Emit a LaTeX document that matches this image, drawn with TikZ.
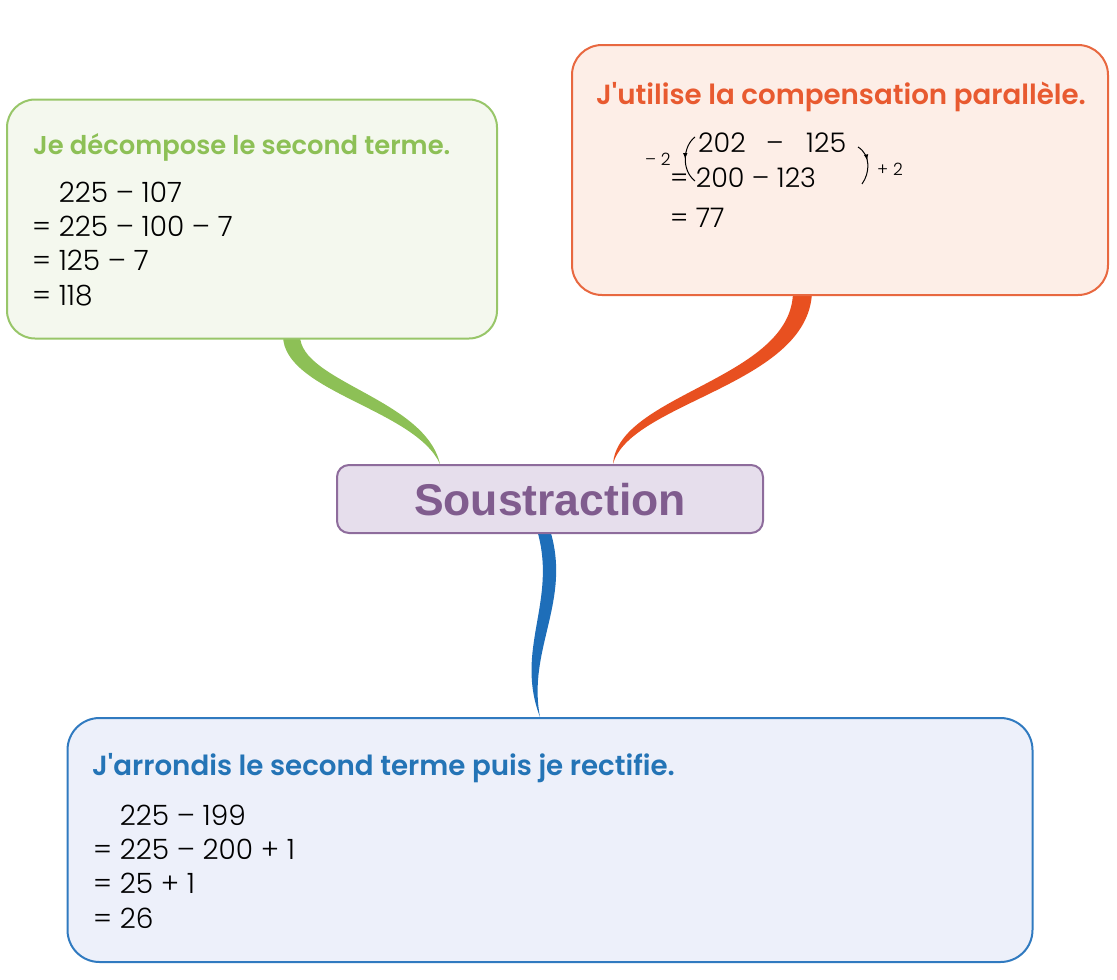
\documentclass[tikz,border=0pt]{standalone}
\usepackage{fontspec}
\setmainfont{Poppins Light}
\newfontfamily\headfont{Poppins SemiBold}
\newfontfamily\titlefont{Liberation Sans}
\usetikzlibrary{backgrounds,decorations.markings}

\definecolor{greenhead}{RGB}{141,192,86}
\definecolor{greenedge}{RGB}{152,198,105}
\definecolor{greenfill}{RGB}{244,248,238}
\definecolor{orangehead}{RGB}{232,90,48}
\definecolor{orangeedge}{RGB}{232,104,64}
\definecolor{orangefill}{RGB}{253,238,231}
\definecolor{orangerib}{RGB}{232,80,32}
\definecolor{bluehead}{RGB}{36,116,182}
\definecolor{blueedge}{RGB}{48,122,192}
\definecolor{bluefill}{RGB}{237,240,250}
\definecolor{bluerib}{RGB}{30,110,185}
\definecolor{purplehead}{RGB}{128,92,142}
\definecolor{purpleedge}{RGB}{142,108,156}
\definecolor{purplefill}{RGB}{230,222,236}

\tikzset{
  box/.style={rounded corners=28pt,line width=2pt,inner sep=0pt},
  head/.style={anchor=base west,inner sep=0pt,font=\headfont\fontsize{27.7}{32}\selectfont},
  calc/.style={anchor=base west,inner sep=0pt,font=\fontsize{28}{34}\selectfont},
  smallcalc/.style={anchor=base west,inner sep=0pt,font=\fontsize{27}{32}\selectfont},
  tinycalc/.style={anchor=base west,inner sep=0pt,font=\fontsize{17}{20}\selectfont},
  bracket/.style={line width=1pt,postaction={decorate},
    decoration={markings,mark=at position #1 with {\arrow{latex}}}}
}

\begin{document}
\begin{tikzpicture}[x=1pt,y=-1pt,line join=round,>=latex]
  \useasboundingbox (0,0) rectangle (1117,980);

  % boxes
  \node[box,draw=greenedge,fill=greenfill,minimum width=490pt,minimum height=239pt] (green) at (252,219) {};
  \node[box,draw=orangeedge,fill=orangefill,rounded corners=30pt,minimum width=536pt,minimum height=250pt] (orange) at (840,170) {};
  \node[box,draw=purpleedge,fill=purplefill,rounded corners=12pt,minimum width=426pt,minimum height=68pt] (centre) at (550,499) {};
  \node[box,draw=blueedge,fill=bluefill,rounded corners=32pt,minimum width=965pt,minimum height=244pt] (blue) at (550,840) {};

  \node[anchor=base,inner sep=0pt,text=purplehead,font=\titlefont\bfseries\fontsize{44.5}{50}\selectfont] (title) at (550,515) {Soustraction};

  % ribbons
  \begin{pgfonlayer}{background}
    \coordinate (gtip) at ([xshift=-110pt]centre.north);
    \coordinate (gl) at ([xshift=31pt,yshift=4pt]green.south);
    \coordinate (gr) at ([xshift=48pt,yshift=4pt]green.south);
    \fill[greenhead] (gl) .. controls +(0,56) and +(-25,-55) .. (gtip)
      .. controls +(-15,-65) and +(0,46) .. (gr) -- cycle;

    \coordinate (otip) at ([xshift=63pt]centre.north);
    \coordinate (ol) at ([xshift=-47pt,yshift=4pt]orange.south);
    \coordinate (or) at ([xshift=-28pt,yshift=4pt]orange.south);
    \fill[orangerib] (ol) .. controls +(-1,87) and +(5,-70) .. (otip)
      .. controls +(17,-62) and +(-3,93) .. (or) -- cycle;

    \coordinate (btip) at ([xshift=-10pt]blue.north);
    \coordinate (bl) at ([xshift=-13pt,yshift=4pt]centre.south);
    \coordinate (br) at ([xshift=0pt,yshift=4pt]centre.south);
    \fill[bluerib] (bl) .. controls +(21,71) and +(-26,-68) .. (btip)
      .. controls +(-13,-68) and +(22,71) .. (br) -- cycle;
  \end{pgfonlayer}

  % green: decomposition
  \node[head,text=greenhead,font=\headfont\fontsize{25.8}{32}\selectfont] (ghead) at (33,154) {Je décompose le second terme.};
  \foreach \txt [count=\i] in {\phantom{=} 225 – 107,= 225 – 100 – 7,= 125 – 7,= 118} {
      \node[calc] (g\i) at (32,202+34.4*\i-34.4) {\txt};
    }

  % orange: compensation
  \node[head,text=orangehead] (ohead) at (596,104) {J'utilise la compensation parallèle.};
  \node[smallcalc] (o1a) at (698,152) {202};
  \node[smallcalc] (o1b) at (766,152) {–};
  \node[smallcalc] (o1c) at (806,152) {125};
  \node[smallcalc] (o2) at (670,187) {= 200 – 123};
  \node[smallcalc] (o3) at (670,227) {= 77};
  \node[tinycalc] (minus) at (645,165) {– 2};
  \node[tinycalc] (plus) at (877,175) {+ 2};
  \draw[bracket=0.5] (695,137) .. controls (683,146) and (681,170) .. (695,181);
  \draw[bracket=0.4] (858,147) .. controls (871,155) and (870,173) .. (862,184);

  % blue: rounding
  \node[head,text=bluehead] (bhead) at (92,775) {J'arrondis le second terme puis je rectifie.};
  \foreach \txt [count=\i] in {\phantom{=} 225 – 199,= 225 – 200 + 1,= 25 + 1,= 26} {
      \node[calc] (b\i) at (93,825+34.4*\i-34.4) {\txt};
    }
\end{tikzpicture}
\end{document}
